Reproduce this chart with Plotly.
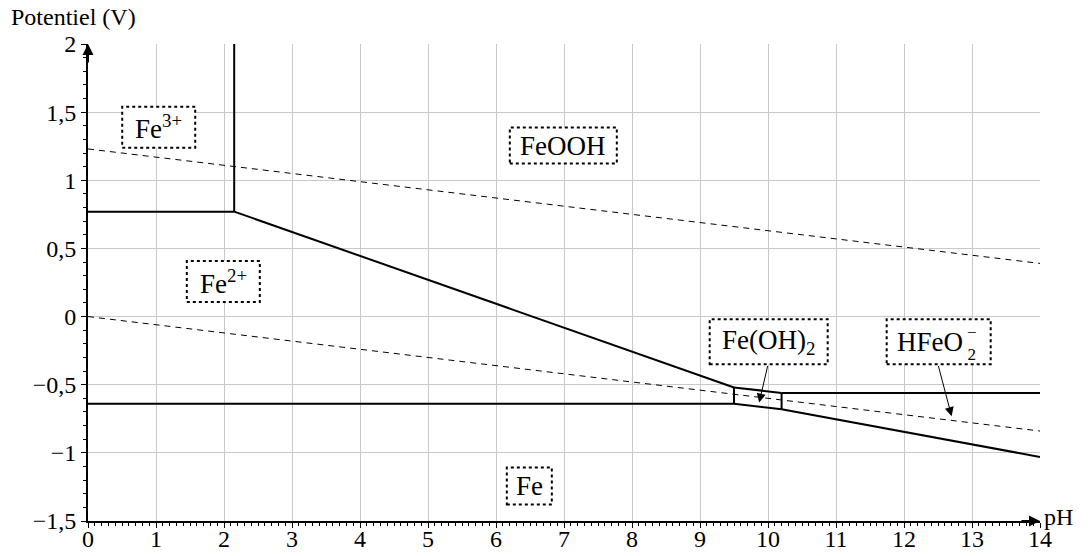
import plotly.graph_objects as go

# ---- data ----
ph_ticks = list(range(0, 15))
E_ticks = [-1.5, -1, -0.5, 0, 0.5, 1, 1.5, 2]
E_tick_labels = ["\u22121,5", "\u22121", "\u22120,5", "0", "0,5", "1", "1,5", "2"]

# solid boundaries (pH, E)
fe3_fe2_ph = [0, 2.15];      fe3_fe2_E = [0.77, 0.77]
fe3_feooh_ph = [2.15, 2.15]; fe3_feooh_E = [0.77, 2.0]
fe2_feooh_ph = [2.15, 9.5];  fe2_feooh_E = [0.77, -0.52]
fe2_fe_ph = [0, 9.5];        fe2_fe_E = [-0.64, -0.64]
fe2_feoh2_ph = [9.5, 9.5];   fe2_feoh2_E = [-0.64, -0.52]
feoh2_feooh_ph = [9.5, 10.2]; feoh2_feooh_E = [-0.52, -0.56]
feoh2_hfeo2_ph = [10.2, 10.2]; feoh2_hfeo2_E = [-0.56, -0.68]
hfeo2_feooh_ph = [10.2, 14];  hfeo2_feooh_E = [-0.56, -0.56]
feoh2_fe_ph = [9.5, 10.2];   feoh2_fe_E = [-0.64, -0.68]
hfeo2_fe_ph = [10.2, 14];    hfeo2_fe_E = [-0.68, -1.03]

# water lines
o2_ph = [0, 14]; o2_E = [1.23, 0.39]
h2_ph = [0, 14]; h2_E = [0.0, -0.84]

# species labels (HFeO2- drawn in two parts so the charge sits above the index)
species = ["Fe<sup>3+</sup>", "FeOOH", "Fe<sup>2+</sup>", "Fe(OH)<sub>2</sub>", "HFeO", "Fe"]
species_ph = [1.04, 6.99, 1.99, 10.01, 12.51, 6.49]
species_E = [1.39, 1.255, 0.257, -0.185, -0.185, -1.244]
species_w = [73, 107, 73, 118, 104, 45]
species_h = [41, 36, 41, 45, 45, 37]
hfeo2_suffix = "\u2212<br>2"

# arrows from labels (tail -> head)
arrow_tail_ph = [10.0, 12.5]; arrow_tail_E = [-0.352, -0.352]
arrow_head_ph = [9.87, 12.7]; arrow_head_E = [-0.631, -0.731]

FONT = "Liberation Serif"

solid_segments = [
    (fe3_fe2_ph, fe3_fe2_E), (fe3_feooh_ph, fe3_feooh_E), (fe2_feooh_ph, fe2_feooh_E),
    (fe2_fe_ph, fe2_fe_E), (fe2_feoh2_ph, fe2_feoh2_E), (feoh2_feooh_ph, feoh2_feooh_E),
    (feoh2_hfeo2_ph, feoh2_hfeo2_E), (hfeo2_feooh_ph, hfeo2_feooh_E),
    (feoh2_fe_ph, feoh2_fe_E), (hfeo2_fe_ph, hfeo2_fe_E),
]

fig = go.Figure()
for xs, ys in [(o2_ph, o2_E), (h2_ph, h2_E)]:
    fig.add_trace(go.Scatter(x=xs, y=ys, mode="lines",
                             line=dict(color="black", width=1, dash="6px,5px"),
                             hoverinfo="skip", showlegend=False))
for xs, ys in solid_segments:
    fig.add_trace(go.Scatter(x=xs, y=ys, mode="lines",
                             line=dict(color="black", width=2),
                             hoverinfo="skip", showlegend=False))

shapes = []
annotations = []
for i, (t, px, pe, w, h) in enumerate(zip(species, species_ph, species_E, species_w, species_h)):
    shapes.append(dict(type="rect", xref="x", yref="y", xsizemode="pixel", ysizemode="pixel",
                       xanchor=px, yanchor=pe, x0=-w / 2, x1=w / 2, y0=-h / 2, y1=h / 2,
                       line=dict(color="black", width=2, dash="dot"),
                       fillcolor="white", layer="above"))
    if i == 4:
        annotations.append(dict(x=px, y=pe, xref="x", yref="y", text=t, showarrow=False,
                                xanchor="right", xshift=26,
                                font=dict(family=FONT, size=27, color="black")))
        annotations.append(dict(x=px, y=pe, xref="x", yref="y", text=hfeo2_suffix,
                                showarrow=False, xanchor="left", xshift=26, yshift=-2,
                                align="center",
                                font=dict(family=FONT, size=17, color="black")))
    else:
        annotations.append(dict(x=px, y=pe, xref="x", yref="y", text=t, showarrow=False,
                                font=dict(family=FONT, size=27, color="black")))

for tx, te, hx, he in zip(arrow_tail_ph, arrow_tail_E, arrow_head_ph, arrow_head_E):
    annotations.append(dict(x=hx, y=he, ax=tx, ay=te, xref="x", yref="y",
                            axref="x", ayref="y", text="", showarrow=True,
                            arrowhead=2, arrowsize=1.8, arrowwidth=1, arrowcolor="black"))

# axis arrows
annotations.append(dict(x=14, y=-1.5, xref="x", yref="y", ax=-20, ay=0, text="",
                        showarrow=True, arrowhead=2, arrowsize=1.1, arrowwidth=2,
                        arrowcolor="black"))
annotations.append(dict(x=0, y=2, xref="x", yref="y", ax=0, ay=20, text="",
                        showarrow=True, arrowhead=2, arrowsize=1.1, arrowwidth=2,
                        arrowcolor="black"))
# axis titles
annotations.append(dict(x=0, y=1, xref="paper", yref="paper", xanchor="left", yanchor="bottom",
                        xshift=-78, yshift=13, borderpad=0, text="Potentiel (V)", showarrow=False,
                        font=dict(family=FONT, size=24, color="black")))
annotations.append(dict(x=1, y=0, xref="paper", yref="paper", xanchor="left", yanchor="middle",
                        xshift=2, yshift=4, text="pH", showarrow=False,
                        font=dict(family=FONT, size=24, color="black")))

fig.update_layout(
    width=1088, height=556,
    margin=dict(l=88, r=48, t=44, b=35),
    plot_bgcolor="white", paper_bgcolor="white",
    shapes=shapes, annotations=annotations,
    font=dict(family=FONT, size=24, color="black"),
)
fig.update_xaxes(range=[0, 14], tickvals=ph_ticks, ticktext=[str(v) for v in ph_ticks],
                 automargin=False, ticklabelstandoff=-10,
                 showgrid=True, gridcolor="#c8c8c8", gridwidth=1,
                 showline=True, linecolor="black", linewidth=2, zeroline=False,
                 ticks="outside", ticklen=5, tickwidth=1, tickcolor="black",
                 minor=dict(dtick=0.1, tick0=0, ticks="outside", ticklen=3, tickwidth=1,
                            tickcolor="black", showgrid=False),
                 fixedrange=True)
fig.update_yaxes(range=[-1.5, 2], tickvals=E_ticks, ticktext=E_tick_labels,
                 automargin=False,
                 showgrid=True, gridcolor="#c8c8c8", gridwidth=1,
                 showline=True, linecolor="black", linewidth=2, zeroline=False,
                 ticks="outside", ticklen=5, tickwidth=1, tickcolor="black",
                 minor=dict(dtick=0.1, tick0=0, ticks="outside", ticklen=3, tickwidth=1,
                            tickcolor="black", showgrid=False),
                 fixedrange=True)

# remove the default page margin so the 1088x556 figure fills the window exactly
fig.write_html("out.html", config={"displayModeBar": False},
               post_script="document.body.style.margin='0';document.body.style.overflow='hidden';")
